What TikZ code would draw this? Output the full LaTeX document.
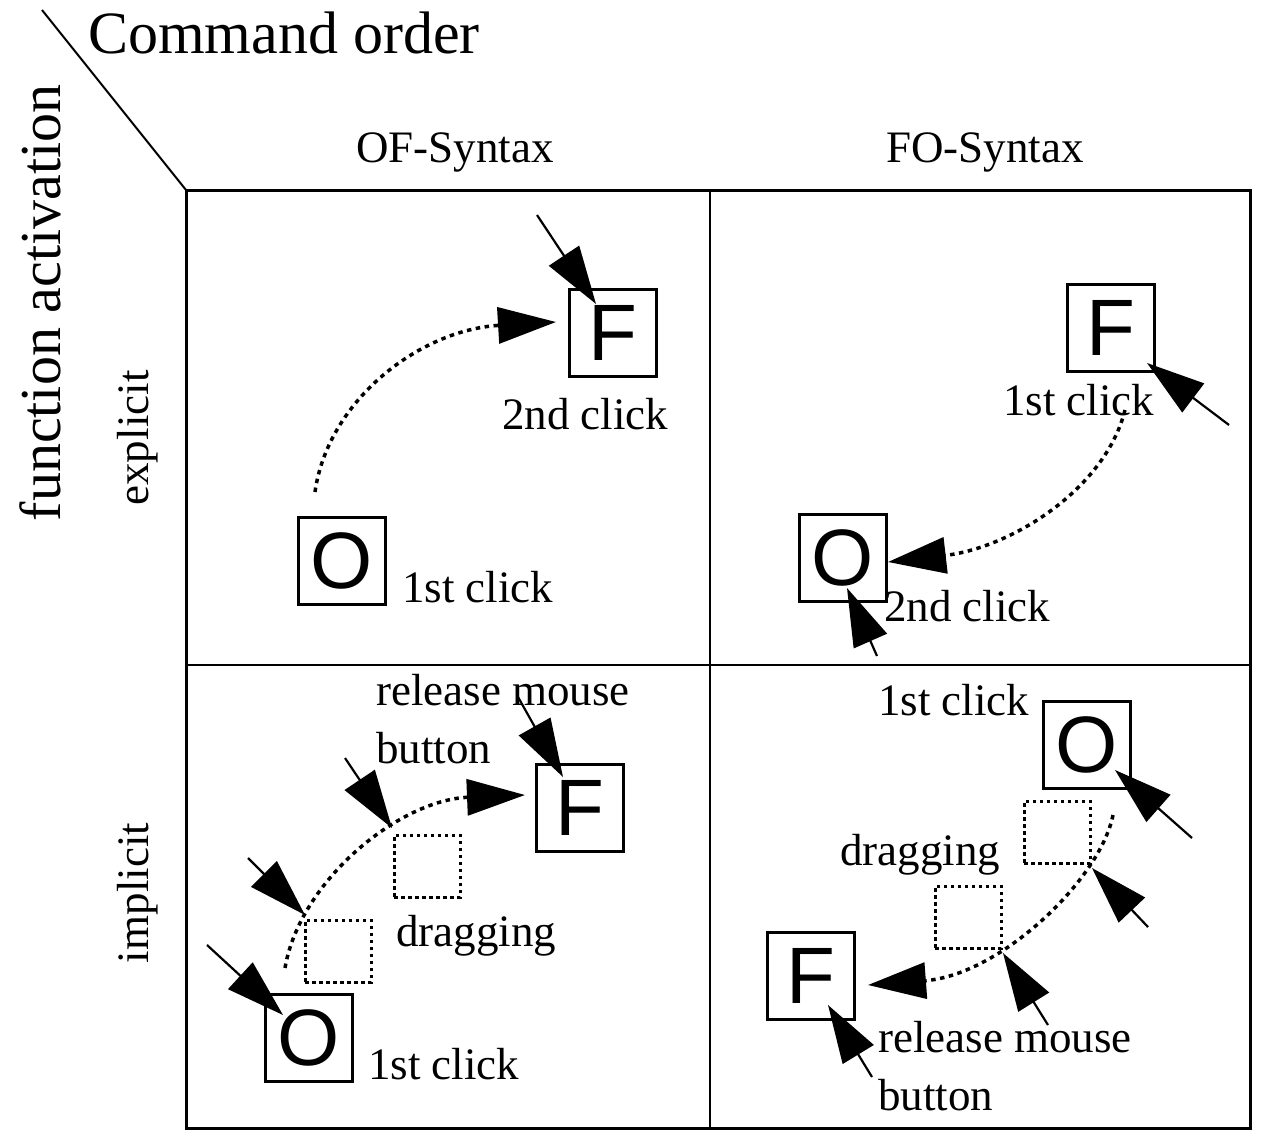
\documentclass[tikz,border=0pt]{standalone}
\usepackage{fontspec}
\setmainfont{Liberation Serif}
\newfontfamily\boxfont{Liberation Sans}
\usetikzlibrary{arrows.meta}
\begin{document}
\begin{tikzpicture}[x=1pt,y=-1pt,
  lbl/.style={anchor=base west,inner sep=0pt,font=\fontsize{45}{50}\selectfont},
  head/.style={inner sep=0pt,font=\fontsize{45}{50}\selectfont},
  objbox/.style={draw,line width=2.4pt,minimum size=87pt,inner sep=0pt,font=\boxfont\fontsize{80}{80}\selectfont},
  ghost/.style={draw,line width=3pt,dash pattern=on 3.5pt off 3.5pt,minimum width=66pt,minimum height=62pt,inner sep=0pt},
  path/.style={line width=3.5pt,dash pattern=on 4.5pt off 4.5pt,-{Triangle[length=58pt,width=36pt]}},
  pointer/.style={line width=2.2pt,-{Triangle[length=58pt,width=36pt]}}]
\useasboundingbox (0,0) rectangle (1265,1135);

% frame and grid
\draw[line width=2pt] (42,10) -- (186,190);
\draw[line width=3pt] (186,190) rectangle (1250,1128);
\draw[line width=2pt] (710,190) -- (710,1128);
\draw[line width=2pt] (186,665) -- (1250,665);

% axis titles
\node[anchor=base west,inner sep=0pt,font=\fontsize{60}{62}\selectfont] (cmd) at (88,53) {Command order};
\node[rotate=90,inner sep=0pt,font=\fontsize{58}{60}\selectfont] (fact) at (40,303) {function activation};
\node[lbl] (ofs) at (356,162) {OF-Syntax};
\node[lbl] (fos) at (886,162) {FO-Syntax};
\node[head,rotate=90] (expl) at (138,438) {explicit};
\node[head,rotate=90] (impl) at (138,893) {implicit};

% explicit / OF
\node[objbox] (F1) at (613,333) {F};
\node[objbox] (O1) at (342,561) {O};
\node[lbl] (l1a) at (502,429) {2nd click};
\node[lbl] (l1b) at (402,602) {1st click};
\coordinate (s1) at (315,492);
\coordinate (e1) at (556,322);
\draw[path] (s1) .. controls (328,400) and (420,330) .. (e1);
\coordinate (t1) at (537,215);
\coordinate (h1) at (596,304);
\draw[pointer] (t1) -- (h1);

% explicit / FO
\node[objbox] (F2) at (1111,328) {F};
\node[objbox] (O2) at (843,558) {O};
\node[lbl] (l2a) at (1003,415) {1st click};
\node[lbl] (l2b) at (884,621) {2nd click};
\coordinate (s2) at (1125,410);
\coordinate (e2) at (888,562);
\draw[path] (s2) .. controls (1105,490) and (1010,548) .. (e2);
\coordinate (t2a) at (1229,425);
\coordinate (h2a) at (1147,363);
\draw[pointer] (t2a) -- (h2a);
\coordinate (t2b) at (877,656);
\coordinate (h2b) at (847,588);
\draw[pointer] (t2b) -- (h2b);

% implicit / OF
\node[objbox] (F3) at (580,808) {F};
\node[objbox] (O3) at (309,1038) {O};
\node[ghost] (g3a) at (338,951) {};
\node[ghost] (g3b) at (427,866) {};
\node[lbl] (l3a) at (376,705) {release mouse};
\node[lbl] (l3b) at (376,763) {button};
\node[lbl] (l3c) at (396,946) {dragging};
\node[lbl] (l3d) at (368,1079) {1st click};
\coordinate (s3) at (285,968);
\coordinate (e3) at (525,795);
\draw[path] (s3) .. controls (300,880) and (400,800) .. (e3);
\coordinate (t3a) at (518,697);
\coordinate (h3a) at (563,777);
\draw[pointer] (t3a) -- (h3a);
\coordinate (t3b) at (345,758);
\coordinate (h3b) at (392,828);
\draw[pointer] (t3b) -- (h3b);
\coordinate (t3c) at (248,858);
\coordinate (h3c) at (305,915);
\draw[pointer] (t3c) -- (h3c);
\coordinate (t3d) at (207,945);
\coordinate (h3d) at (283,1015);
\draw[pointer] (t3d) -- (h3d);

% implicit / FO
\node[objbox] (O4) at (1087,745) {O};
\node[objbox] (F4) at (811,976) {F};
\node[ghost] (g4a) at (1057,832) {};
\node[ghost] (g4b) at (968,917) {};
\node[lbl] (l4a) at (878,715) {1st click};
\node[lbl] (l4b) at (840,865) {dragging};
\node[lbl] (l4c) at (878,1052) {release mouse};
\node[lbl] (l4d) at (878,1110) {button};
\coordinate (s4) at (1113,815);
\coordinate (e4) at (868,985);
\draw[path] (s4) .. controls (1100,880) and (1000,975) .. (e4);
\coordinate (t4a) at (1192,838);
\coordinate (h4a) at (1115,770);
\draw[pointer] (t4a) -- (h4a);
\coordinate (t4b) at (1148,927);
\coordinate (h4b) at (1092,868);
\draw[pointer] (t4b) -- (h4b);
\coordinate (t4c) at (1048,1025);
\coordinate (h4c) at (1003,953);
\draw[pointer] (t4c) -- (h4c);
\coordinate (t4d) at (872,1077);
\coordinate (h4d) at (828,1005);
\draw[pointer] (t4d) -- (h4d);
\end{tikzpicture}
\end{document}
